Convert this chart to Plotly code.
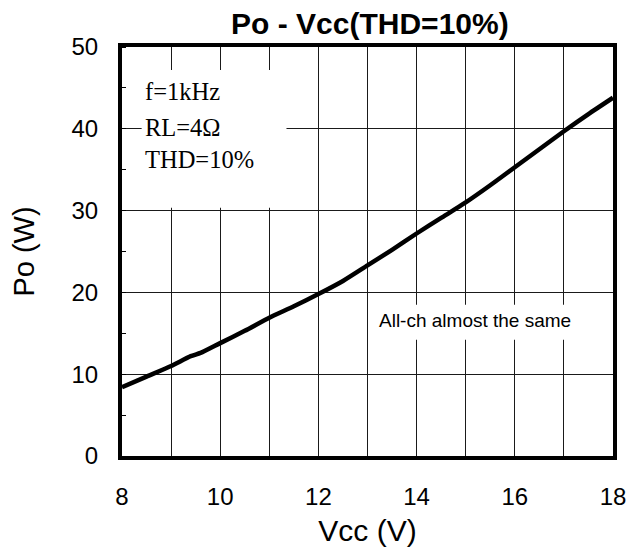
import plotly.graph_objects as go

vcc = [8, 8.5, 9, 9.4, 9.6, 10, 10.5, 11, 11.5, 12, 12.5, 13, 13.5, 14, 14.5, 15, 15.5, 16, 16.5, 17, 17.5, 18]
po = [8.4, 9.7, 11.0, 12.2, 12.6, 13.8, 15.3, 16.9, 18.3, 19.8, 21.4, 23.3, 25.2, 27.2, 29.1, 31.0, 33.1, 35.3, 37.5, 39.7, 41.8, 43.8]
x_ticks = [8, 10, 12, 14, 16, 18]
y_ticks = [0, 10, 20, 30, 40, 50]

fig = go.Figure()
fig.add_trace(go.Scatter(x=vcc, y=po, mode="lines",
                         line=dict(color="black", width=4.5, shape="spline", smoothing=0.6),
                         showlegend=False, hoverinfo="skip"))

font_sans = "Liberation Sans, Arial, sans-serif"
font_serif = "Liberation Serif, Times New Roman, serif"

# page body has an 8px margin, so the figure is shifted by 8px; compensate
fig.update_layout(
    width=636, height=543,
    margin=dict(l=114, r=31, t=39, b=95),
    paper_bgcolor="white", plot_bgcolor="white",
    title=dict(text="<b>Po - Vcc(THD=10%)</b>", x=0.569, xanchor="center",
               y=0.9905, yanchor="top", pad=dict(t=0, b=0),
               font=dict(family=font_sans, size=30, color="black")),
    xaxis=dict(range=[8, 18], tickvals=x_ticks, ticktext=[str(v) for v in x_ticks],
               automargin=False,
               showgrid=True, gridcolor="#1a1a1a", gridwidth=1.4,
               minor=dict(dtick=1, showgrid=True, gridcolor="#1a1a1a", gridwidth=1.4),
               showline=True, linecolor="black", linewidth=4, mirror=True,
               ticks="", ticklabelstandoff=16, zeroline=False,
               tickfont=dict(family=font_sans, size=24, color="black"),
               title=dict(text="Vcc (V)", standoff=12,
                          font=dict(family=font_sans, size=30, color="black"))),
    yaxis=dict(range=[0, 50], tickvals=y_ticks, ticktext=[str(v) for v in y_ticks],
               automargin=False,
               showgrid=True, gridcolor="#1a1a1a", gridwidth=1.4,
               minor=dict(dtick=5, ticks="inside", ticklen=4, tickcolor="black", showgrid=False),
               showline=True, linecolor="black", linewidth=4, mirror=True,
               ticks="", ticklabelstandoff=15, zeroline=False,
               tickfont=dict(family=font_sans, size=24, color="black"),
               title=dict(text="Po (W)", standoff=32,
                          font=dict(family=font_sans, size=29, color="black"))),
)

# white boxes masking gridlines behind the notes
fig.add_shape(type="rect", xref="x", yref="y", x0=8.4, x1=11.35, y0=30.35, y1=47.2,
              fillcolor="white", line=dict(width=0), layer="above")
fig.add_shape(type="rect", xref="x", yref="y", x0=13.1, x1=17.6, y0=14.2, y1=18.5,
              fillcolor="white", line=dict(width=0), layer="above")

for txt, yy in [("f=1kHz", 44.5), ("RL=4Ω", 40.2), ("THD=10%", 36.2)]:
    fig.add_annotation(x=8.42, y=yy, xref="x", yref="y", text=txt, showarrow=False,
                       xanchor="left", yanchor="middle",
                       font=dict(family=font_serif, size=24.5, color="black"))

fig.add_annotation(x=13.2, y=16.6, xref="x", yref="y", text="All-ch almost the same",
                   showarrow=False, xanchor="left", yanchor="middle",
                   font=dict(family=font_sans, size=19, color="black"))

fig.write_html("out.html")
